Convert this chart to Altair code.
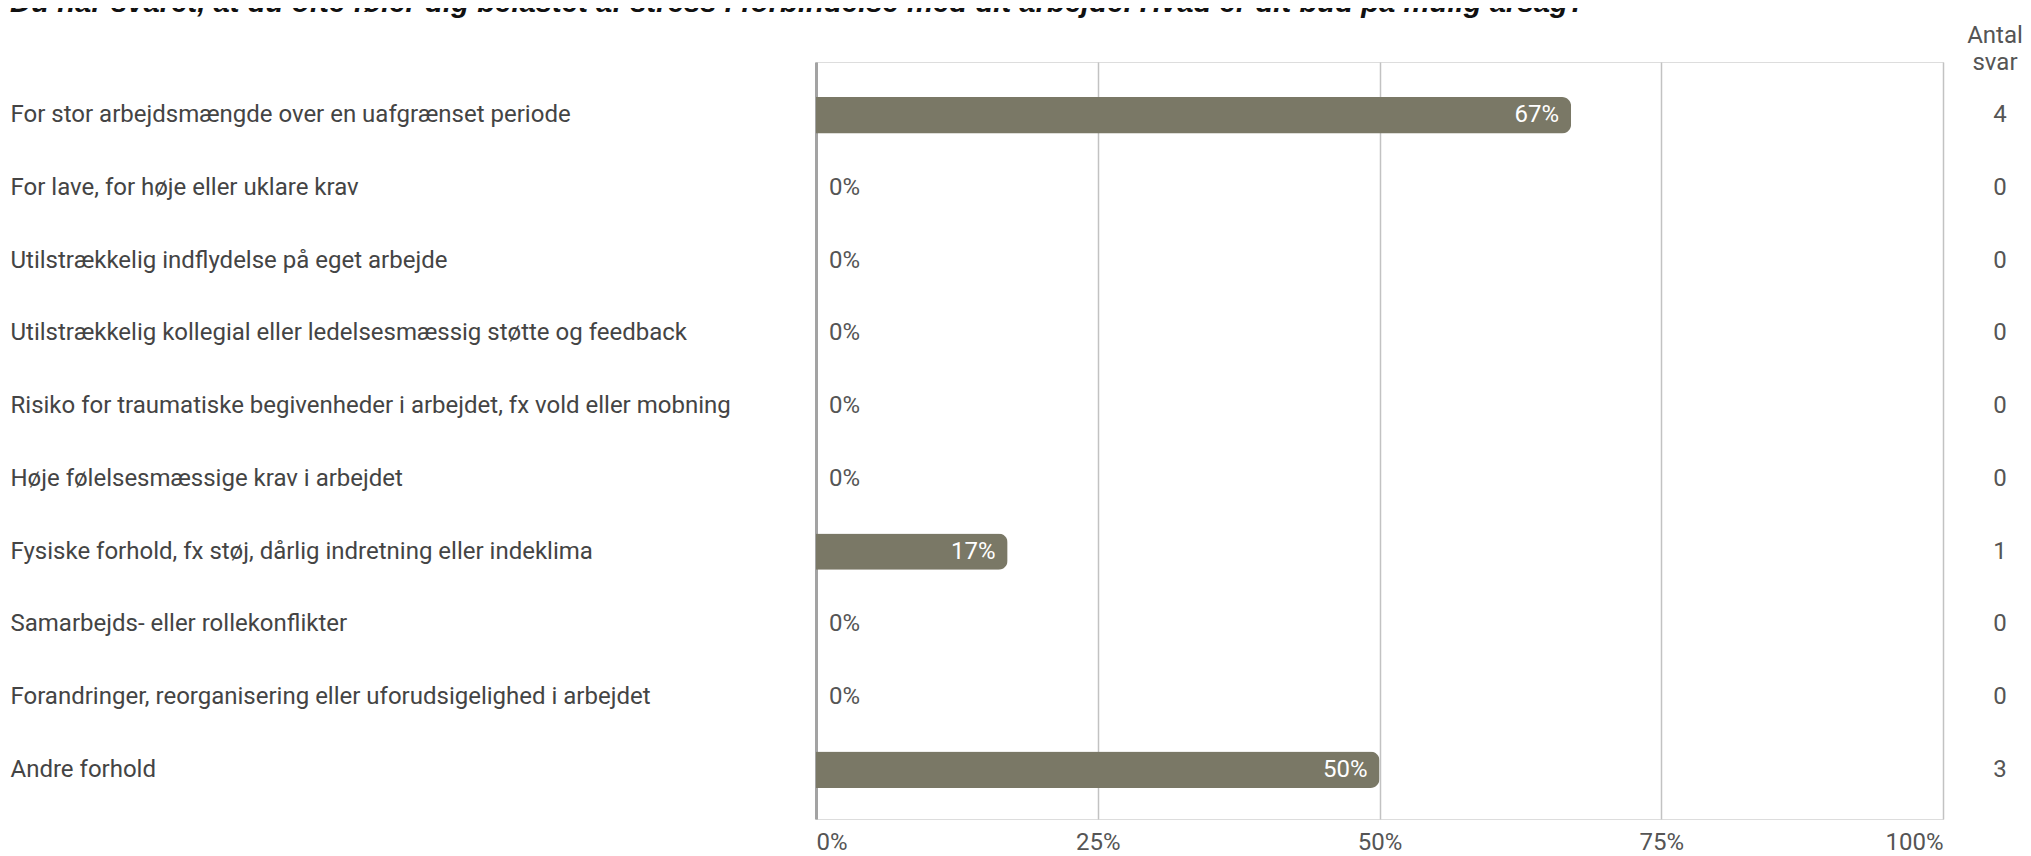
import altair as alt
import pandas as pd

title_text = "Du har svaret, at du ofte føler dig belastet af stress i forbindelse med dit arbejde. Hvad er dit bud på mulig årsag?"
categories = [
    "For stor arbejdsmængde over en uafgrænset periode",
    "For lave, for høje eller uklare krav",
    "Utilstrækkelig indflydelse på eget arbejde",
    "Utilstrækkelig kollegial eller ledelsesmæssig støtte og feedback",
    "Risiko for traumatiske begivenheder i arbejdet, fx vold eller mobning",
    "Høje følelsesmæssige krav i arbejdet",
    "Fysiske forhold, fx støj, dårlig indretning eller indeklima",
    "Samarbejds- eller rollekonflikter",
    "Forandringer, reorganisering eller uforudsigelighed i arbejdet",
    "Andre forhold",
]
shares = [67, 0, 0, 0, 0, 0, 17, 0, 0, 50]
counts = [4, 0, 0, 0, 0, 0, 1, 0, 0, 3]
x_ticks = [0, 25, 50, 75, 100]
count_header = "Antal\nsvar"

df = pd.DataFrame({"category": categories, "share": shares, "count": counts})

FONT = "Roboto"
FS = 24
W, H = 1127, 757

y_enc = alt.Y(
    "category:N",
    sort=None,
    scale=alt.Scale(paddingInner=0.5, paddingOuter=0.455, align=0.53),
    axis=alt.Axis(
        title=None,
        ticks=False,
        domain=True,
        domainColor="#a3a3a3",
        domainWidth=3,
        labelAlign="left",
        labelPadding=806,
        labelLimit=800,
        labelFont=FONT,
        labelFontSize=FS,
        labelColor="#444444",
        grid=False,
    ),
)

x_enc = alt.X(
    "share:Q",
    scale=alt.Scale(domain=[0, 100], nice=False),
    axis=alt.Axis(
        title=None,
        values=x_ticks,
        labelExpr="datum.value + '%'",
        ticks=False,
        domain=False,
        grid=True,
        gridColor="#c2c2c2",
        gridWidth=1.5,
        labelPadding=11,
        labelFont=FONT,
        labelFontSize=FS,
        labelColor="#555555",
    ),
)

base = alt.Chart(df).transform_calculate(label="datum.share + '%'")

bars = base.mark_bar(color="#7a7866", cornerRadiusEnd=9).encode(y=y_enc, x=x_enc)

inside = base.transform_filter("datum.share > 0").mark_text(
    align="right", baseline="middle", dx=-12, font=FONT, fontSize=FS, color="white"
).encode(y=alt.Y("category:N", sort=None), x=alt.X("share:Q"), text="label:N")

zero = base.transform_filter("datum.share == 0").mark_text(
    align="left", baseline="middle", dx=13, font=FONT, fontSize=FS, color="#555555"
).encode(y=alt.Y("category:N", sort=None), x=alt.X("share:Q"), text="label:N")

count_col = base.mark_text(
    align="center", baseline="middle", font=FONT, fontSize=FS, color="#555555"
).encode(y=alt.Y("category:N", sort=None), x=alt.value(W + 57), text="count:Q")

header = alt.Chart(pd.DataFrame({"h": [count_header]})).mark_text(
    align="center", baseline="middle", font=FONT, fontSize=FS, color="#555555",
    lineBreak="\n", lineHeight=27,
).encode(x=alt.value(W + 52), y=alt.value(-26), text="h:N")

title = alt.Chart(pd.DataFrame({"t": [title_text]})).mark_text(
    align="left", baseline="alphabetic", font="Liberation Sans", fontSize=29.3,
    fontWeight="bold", fontStyle="italic", color="#111111",
).encode(x=alt.value(-806), y=alt.value(-50), text="t:N")

chart = (
    alt.layer(bars, inside, zero, count_col, header, title)
    .properties(
        width=W,
        height=H,
        autosize=alt.AutoSizeParams(type="none"),
        padding={"left": 808, "top": 54, "right": 80, "bottom": 34},
    )
    .configure_view(strokeWidth=0)
    .configure(background="white")
)

chart.save("out.html", embed_options={"renderer": "svg", "actions": False})
